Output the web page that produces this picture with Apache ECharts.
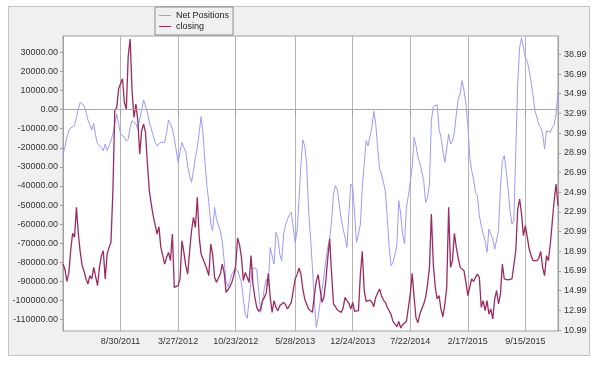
<!DOCTYPE html>
<html><head><meta charset="utf-8">
<script src="https://cdn.jsdelivr.net/npm/echarts@6/dist/echarts.min.js"></script>
<style>
html,body{margin:0;padding:0;background:#fff;}
#panel{position:absolute;left:8px;top:6px;width:580px;height:348px;background:#f0f0f0;border:1px solid #c4c4c4;}
#chart{position:absolute;left:0;top:0;width:600px;height:367px;}
</style></head><body>
<div id="panel"></div><div id="chart"></div>
<script>
// weekly observations, first week 2/1/2011
const firstWeek = [2011, 1, 1];
const tickLabels = ['8/30/2011','3/27/2012','10/23/2012','5/28/2013','12/24/2013','7/22/2014','2/17/2015','9/15/2015'];
const leftTicks = [-110000,-100000,-90000,-80000,-70000,-60000,-50000,-40000,-30000,-20000,-10000,0,10000,20000,30000];
const rightTicks = [10.99,12.99,14.99,16.99,18.99,20.99,22.99,24.99,26.99,28.99,30.99,32.99,34.99,36.99,38.99];
const leftRange = [-116000, 38600];
const rightRange = [10.9, 40.85];

const netPositions = [
-22900,-19800,-14500,-11000,-9600,-10100,-8400,-4000,400,3900,
4200,2100,-1400,-5400,-7900,-10700,-7200,-13600,-18000,-17100,
-19800,-21500,-18000,-21500,-18900,-16300,-12800,-7500,-2300,-7500,
-12800,-13600,-14500,-16600,-15400,-9300,-5800,-4900,-7500,-10100,
-4900,-500,5100,4200,-1400,-6600,-10100,-13600,-17100,-18900,
-18000,-17100,-17700,-17100,-11900,-5400,-7500,-10100,-14900,-15900,
-27600,-22400,-17100,-17700,-22400,-29400,-34600,-38100,-32000,-25000,
-19800,-11900,-3700,-12800,-27600,-39900,-48600,-60000,-63500,-51200,
-57300,-60800,-63500,-68700,-79200,-90000,-92800,-89700,-86200,-86500,
-83000,-84400,-83600,-90600,-99300,-107200,-109300,-100200,-89700,-82700,
-81800,-83600,-94900,-106300,-105400,-93200,-88800,-92300,-72200,-71300,
-80900,-64300,-67000,-75700,-79200,-65200,-60300,-57300,-55100,-53800,
-61700,-69600,-63500,-47700,-28500,-15900,-18900,-28500,-52100,-67000,
-82700,-100200,-114100,-108900,-101000,-94900,-87100,-79200,-72200,-67800,
-58200,-44200,-39900,-42100,-49500,-57300,-62600,-67000,-72200,-54700,
-39000,-40700,-54700,-69600,-65200,-60000,-40700,-28500,-16300,-18900,
-18900,-9300,-900,-7500,-19800,-31100,-33700,-33700,-42500,-56500,
-72200,-81800,-80100,-76000,-71300,-47700,-54700,-65200,-70400,-51200,
-45100,-46000,-30200,-14500,-18900,-25000,-28100,-27600,-37200,-48600,
-46000,-39000,-5800,1600,2100,2600,-10100,-14500,-21500,-27600,
-20600,-12800,-18000,-16300,-11900,-2300,5600,8200,15200,10000,
3000,-7500,-25000,-32000,-36400,-43400,-45100,-55600,-60800,-65200,
-68700,-74800,-62600,-63500,-67800,-73100,-72200,-63500,-40700,-26700,
-24100,-32000,-41600,-53000,-60000,-58200,-21500,13500,32700,37600,
32700,27100,25400,20500,14300,7300,-500,-4000,-7900,-9300,
-12800,-20600,-11000,-10100,-11900,-9300,-7900,-2300,9600
];

const closing = [
17.70,17.19,15.94,16.75,19.05,20.81,20.41,23.45,20.75,18.88,
17.53,16.96,16.18,15.67,16.52,16.18,17.36,17.36,15.50,17.36,
18.55,19.05,16.18,18.71,19.39,19.90,25.10,33.30,33.60,35.50,
36.00,36.50,34.10,33.40,38.85,40.54,35.30,32.59,33.94,32.25,
28.87,31.24,31.91,31.07,27.85,25.14,23.79,22.61,22.78,20.75,
21.49,19.39,19.22,17.70,18.38,18.88,18.04,20.75,15.33,15.33,
15.50,16.18,20.07,18.88,17.53,16.68,19.05,21.08,22.44,21.42,
24.47,20.41,18.71,18.71,17.70,17.19,16.52,19.73,18.71,16.35,
15.84,16.01,16.68,17.70,16.85,14.82,14.65,15.40,15.84,16.52,
17.53,20.34,19.66,18.38,16.01,16.85,16.68,15.84,18.55,15.67,
14.32,13.30,12.89,13.13,13.98,14.32,14.82,16.75,14.32,12.79,
13.98,13.30,12.96,13.47,13.47,13.81,13.57,13.13,12.96,13.81,
14.99,16.18,16.62,17.29,16.68,15.16,14.15,13.98,13.13,13.23,
12.79,14.49,15.94,16.62,15.16,13.81,14.32,16.01,18.31,20.27,
16.68,13.64,13.37,13.03,12.89,12.79,13.23,14.32,13.98,13.71,
13.13,13.81,12.89,12.69,12.96,16.68,18.99,14.99,13.91,13.71,
14.04,13.81,13.37,14.32,14.38,15.16,14.49,14.04,13.81,13.30,
12.96,12.56,11.88,11.68,11.34,11.88,11.20,11.54,11.68,11.88,
12.01,14.65,16.75,14.32,12.22,11.74,12.62,13.13,13.64,14.32,
15.60,17.36,22.78,17.70,15.40,14.15,14.49,13.13,12.35,13.57,
15.33,23.45,17.36,18.04,20.81,19.39,18.31,17.36,17.36,17.02,
15.84,14.49,14.49,16.18,15.94,16.35,16.68,16.35,13.30,13.98,
12.96,13.98,12.62,13.13,12.12,14.15,14.99,13.64,14.65,17.70,
16.18,16.25,16.08,16.18,16.18,16.28,19.05,23.28,24.30,22.78,
20.58,21.59,20.41,19.22,18.55,18.04,18.04,18.04,18.31,18.99,
17.36,16.52,18.55,18.04,19.73,21.93,24.13,25.82,23.62
];

const dates = [];
for (let i = 0; i < netPositions.length; i++) {
  const d = new Date(Date.UTC(firstWeek[0], firstWeek[1], firstWeek[2] + 7 * i));
  dates.push((d.getUTCMonth() + 1) + '/' + d.getUTCDate() + '/' + d.getUTCFullYear());
}
const showTick = (idx, val) => tickLabels.indexOf(dates[idx]) >= 0;

const FONT = '"Liberation Sans", Arial, sans-serif';
const AXIS = '#a0a0a0';
const BLUE = '#9a9aff';
const MAROON = '#9b2a5f';

const chart = echarts.init(document.getElementById('chart'), null, {renderer: 'canvas'});
chart.setOption({
  animation: false,
  backgroundColor: 'transparent',
  textStyle: {fontFamily: FONT},
  grid: {left: 63, right: 42, top: 36, bottom: 36, show: true, backgroundColor: '#fff', borderColor: AXIS, borderWidth: 1},
  legend: {
    left: 155, top: 7, orient: 'vertical', itemGap: 0, itemWidth: 12, itemHeight: 1,
    padding: [3, 4, 3, 4], borderColor: '#8c8c8c', borderWidth: 1, backgroundColor: '#f0f0f0',
    textStyle: {fontSize: 9, color: '#222', lineHeight: 11, fontFamily: FONT},
    data: [{name: 'Net Positions', icon: 'rect'}, {name: 'closing', icon: 'rect'}]
  },
  xAxis: {
    type: 'category', data: dates, boundaryGap: false,
    axisLine: {lineStyle: {color: AXIS}},
    axisTick: {show: true, interval: showTick, length: 6, lineStyle: {color: AXIS}},
    axisLabel: {interval: showTick, color: '#333', fontSize: 9, margin: 6, fontFamily: FONT},
    splitLine: {show: true, interval: showTick, lineStyle: {color: '#b4b4b4', width: 1}}
  },
  yAxis: [
    {
      type: 'value', position: 'left', min: leftRange[0], max: leftRange[1],
      axisLine: {show: true, lineStyle: {color: AXIS}},
      axisTick: {show: true, length: 3, customValues: leftTicks, lineStyle: {color: AXIS}},
      axisLabel: {customValues: leftTicks, formatter: v => Number(v).toFixed(2), color: '#333', fontSize: 9, margin: 5, fontFamily: FONT},
      splitLine: {show: false}
    },
    {
      type: 'value', position: 'right', min: rightRange[0], max: rightRange[1],
      axisLine: {show: true, lineStyle: {color: AXIS}},
      axisTick: {show: true, length: 3, customValues: rightTicks, lineStyle: {color: AXIS}},
      axisLabel: {customValues: rightTicks, formatter: v => Number(v).toFixed(2), color: '#333', fontSize: 9, margin: 6, fontFamily: FONT},
      splitLine: {show: false}
    }
  ],
  series: [
    {
      name: 'Net Positions', type: 'line', yAxisIndex: 0, data: netPositions,
      symbol: 'none', showSymbol: false,
      lineStyle: {color: BLUE, width: 1}, itemStyle: {color: BLUE},
      markLine: {silent: true, symbol: 'none', label: {show: false}, animation: false,
        lineStyle: {color: '#a8a8a8', type: 'solid', width: 1}, data: [{yAxis: 0}]}
    },
    {
      name: 'closing', type: 'line', yAxisIndex: 1, data: closing,
      symbol: 'none', showSymbol: false,
      lineStyle: {color: MAROON, width: 1.3}, itemStyle: {color: MAROON}
    }
  ]
});
</script>
</body></html>
